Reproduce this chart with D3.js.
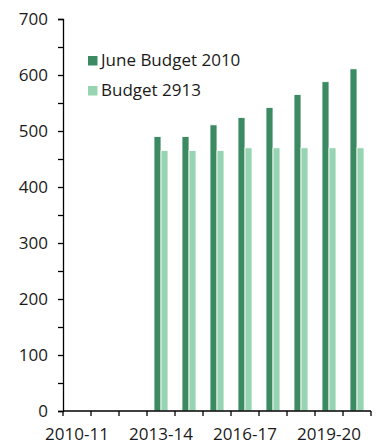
<!DOCTYPE html>
<html>
<head>
<meta charset="utf-8">
<script src="https://cdn.jsdelivr.net/npm/d3@7"></script>
<style>
  html, body { margin: 0; padding: 0; background: #fff; }
  svg { display: block; font-family: "Open Sans", "Noto Sans", sans-serif; }
</style>
</head>
<body>
<svg id="chart" width="381" height="444"></svg>
<script>
// Fiscal years on the x axis
const years = ["2010-11","2011-12","2012-13","2013-14","2014-15","2015-16",
               "2016-17","2017-18","2018-19","2019-20","2020-21"];
// Years that carry a label under the axis
const labelledYears = ["2010-11","2013-14","2016-17","2019-20"];
// Series values (null = no bar)
const juneBudget2010 = [null, null, null, 490, 490, 511, 524, 542, 565, 588, 611];
const budget2913     = [null, null, null, 465, 465, 465, 470, 470, 470, 470, 470];
const seriesNames = ["June Budget 2010", "Budget 2913"];
const seriesColors = ["#3b8a62", "#97d4b1"];
const yTicksMajor = [0, 100, 200, 300, 400, 500, 600, 700];

const FONT = 17;
const svg = d3.select("#chart");
const margin = { left: 63, right: 10, top: 19, bottom: 33 };
const width = 371 - margin.left;
const height = 411 - margin.top;

const g = svg.append("g").attr("transform", `translate(${margin.left},${margin.top})`);

const x = d3.scaleBand().domain(years).range([0, width]).paddingInner(0).paddingOuter(0);
const x1 = d3.scaleBand().domain(seriesNames).range([x.bandwidth() * 0.25, x.bandwidth() * 0.75]).padding(0);
const y = d3.scaleLinear().domain([0, 700]).range([height, 0]);

const series = [juneBudget2010, budget2913];

// Bars
series.forEach((vals, si) => {
  g.append("g").selectAll("rect")
    .data(years.map((yr, i) => ({ yr, v: vals[i] })).filter(d => d.v != null))
    .join("rect")
    .attr("x", d => x(d.yr) + x1(seriesNames[si]))
    .attr("y", d => y(d.v))
    .attr("width", x1.bandwidth())
    .attr("height", d => y(0) - y(d.v))
    .attr("fill", seriesColors[si])
    .attr("stroke", "#fff")
    .attr("stroke-width", 0.8);
});

// Y axis: ticks every 50, labels every 100
const yAxis = d3.axisLeft(y)
  .tickValues(d3.range(0, 701, 50))
  .tickSize(5)
  .tickFormat(d => yTicksMajor.includes(d) ? d : "");
const yg = g.append("g").call(yAxis);
yg.select(".domain").attr("stroke", "#000").attr("stroke-width", 1.3);
yg.selectAll(".tick line").attr("stroke", "#000").attr("stroke-width", 1.3);
yg.selectAll(".tick text")
  .attr("x", -15)
  .attr("font-size", FONT)
  .attr("fill", "#1a1a1a")
  .attr("font-family", "'Open Sans', sans-serif");

// X axis: ticks at band boundaries, labels every third year
const xg = g.append("g").attr("transform", `translate(0,${height})`);
xg.append("line")
  .attr("x1", 0).attr("x2", width)
  .attr("stroke", "#000").attr("stroke-width", 1.3);
xg.selectAll("line.tk")
  .data(years.map(yr => x(yr)).concat([width]))
  .join("line")
  .attr("class", "tk")
  .attr("x1", d => d).attr("x2", d => d)
  .attr("y1", 0).attr("y2", 5)
  .attr("stroke", "#000").attr("stroke-width", 1.3);
xg.selectAll("text")
  .data(labelledYears)
  .join("text")
  .attr("x", d => x(d) + x.bandwidth() / 2)
  .attr("y", 29)
  .attr("text-anchor", "middle")
  .attr("font-size", FONT)
  .attr("fill", "#1a1a1a")
  .text(d => d);

// Legend
const legend = svg.append("g").attr("transform", "translate(88,56)");
seriesNames.forEach((name, i) => {
  const row = legend.append("g").attr("transform", `translate(0,${i * 30})`);
  row.append("rect").attr("width", 9.5).attr("height", 9.5).attr("fill", seriesColors[i]);
  row.append("text").attr("x", 13).attr("y", 10)
    .attr("font-size", FONT).attr("fill", "#1a1a1a").text(name);
});
</script>
</body>
</html>
